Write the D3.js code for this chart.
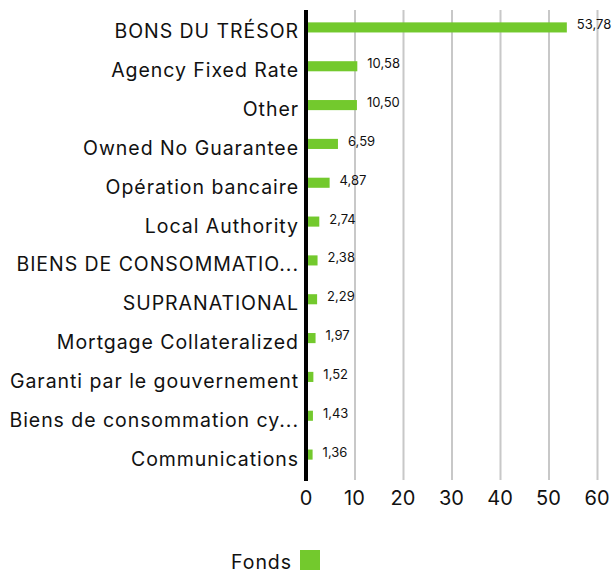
<!DOCTYPE html>
<html lang="fr">
<head>
  <meta charset="UTF-8">
  <title>Fonds</title>
  <script src="https://d3js.org/d3.v7.min.js"></script>
  <style>
    body { margin: 0; background: #fff; }
    text { font-family: "Inter", "Open Sans", sans-serif; fill: #111; }
    .cat, .legend { letter-spacing: 0.95px; }
    .gridlines line { stroke: #c8c8c8; stroke-width: 2; }
    .gridlines .domain { stroke: none; }
  </style>
</head>
<body>
  <svg id="chart" width="614" height="574"></svg>
  <script>
    const categories = [
      "BONS DU TRÉSOR", "Agency Fixed Rate", "Other", "Owned No Guarantee",
      "Opération bancaire", "Local Authority", "BIENS DE CONSOMMATIO...",
      "SUPRANATIONAL", "Mortgage Collateralized", "Garanti par le gouvernement",
      "Biens de consommation cy...", "Communications"
    ];
    const values = [53.78, 10.58, 10.50, 6.59, 4.87, 2.74, 2.38, 2.29, 1.97, 1.52, 1.43, 1.36];
    const ticks = [0, 10, 20, 30, 40, 50, 60];
    const seriesName = "Fonds";
    const green = "#73c92d";

    const svg = d3.select("#chart");
    const plotLeft = 306, plotRight = 597, plotTop = 8, plotBottom = 474;

    const xScale = d3.scaleLinear().domain([0, 60]).range([plotLeft, plotRight]);
    const yScale = d3.scaleBand().domain(categories).range([plotTop, plotBottom]).paddingInner(0.74).paddingOuter(0.37);

    // vertical gridlines
    svg.append("g")
      .attr("class", "gridlines")
      .attr("transform", "translate(0,480)")
      .call(d3.axisBottom(xScale).tickValues(ticks.slice(1)).tickSize(-470).tickFormat(""));

    // bars
    svg.selectAll("rect.bar").data(values)
      .join("rect").attr("class", "bar")
      .attr("fill", green)
      .attr("x", xScale(0))
      .attr("y", (d, i) => yScale(categories[i]))
      .attr("height", yScale.bandwidth())
      .attr("width", d => xScale(d) - xScale(0));

    // value labels
    svg.selectAll("text.val").data(values)
      .join("text").attr("class", "val")
      .attr("x", d => xScale(d) + 10)
      .attr("y", (d, i) => yScale(categories[i]) + yScale.bandwidth() / 2 + 2)
      .attr("font-size", "13px")
      .text(d => d.toFixed(2).replace(".", ","));

    // category labels
    svg.selectAll("text.cat").data(categories)
      .join("text").attr("class", "cat")
      .attr("x", 299)
      .attr("y", d => yScale(d) + yScale.bandwidth() / 2 + 11)
      .attr("text-anchor", "end")
      .attr("font-size", "19.5px")
      .text(d => d);

    // axis line
    svg.append("line")
      .attr("x1", xScale(0)).attr("x2", xScale(0))
      .attr("y1", 10).attr("y2", 481)
      .attr("stroke", "#000").attr("stroke-width", 4);

    // tick labels
    svg.selectAll("text.tick").data(ticks)
      .join("text").attr("class", "tick")
      .attr("x", d => xScale(d))
      .attr("y", 505)
      .attr("text-anchor", "middle")
      .attr("font-size", "20px")
      .text(d => d);

    // legend
    svg.append("text").attr("class", "legend")
      .attr("x", 292).attr("y", 569)
      .attr("text-anchor", "end")
      .attr("font-size", "19.5px")
      .text(seriesName);
    svg.append("rect")
      .attr("x", 300).attr("y", 550)
      .attr("width", 20).attr("height", 20)
      .attr("fill", green);
  </script>
</body>
</html>
